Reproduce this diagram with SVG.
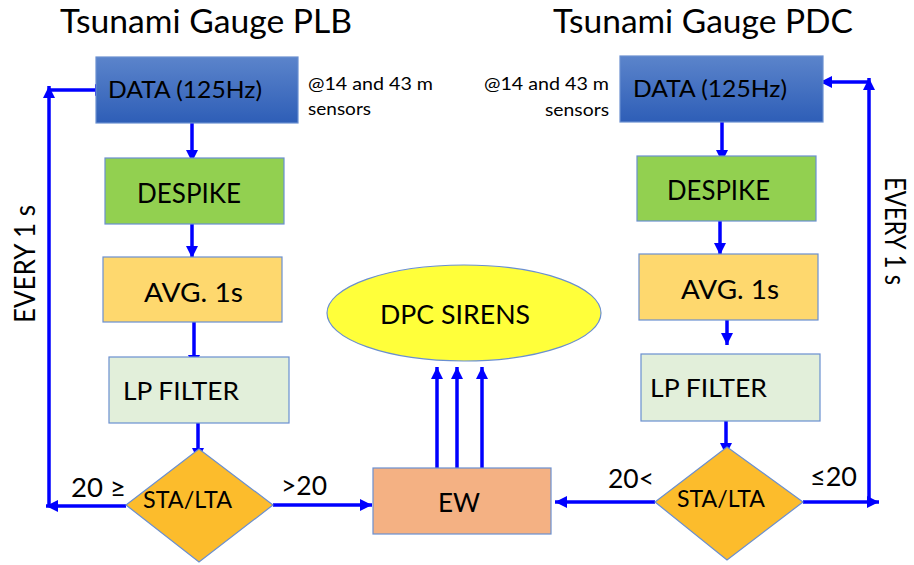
<svg xmlns="http://www.w3.org/2000/svg" width="914" height="565" viewBox="0 0 914 565">
<defs>
<linearGradient id="gData" x1="0" y1="0" x2="0" y2="1">
<stop offset="0" stop-color="#5b84cb"/>
<stop offset="1" stop-color="#2e5eb7"/>
</linearGradient>
<marker id="ah" markerUnits="userSpaceOnUse" markerWidth="12" markerHeight="12" viewBox="0 0 10 10" refX="10" refY="5" orient="auto">
<path d="M0,0 L10,5 L0,10 z" fill="#0000ff"/>
</marker>
</defs>
<style>
text{font-family:Lato,"Open Sans","Liberation Sans",sans-serif;fill:#000}
.box{stroke:#6a8fd0;stroke-width:1.2}
.arr{stroke:#0000ff;stroke-width:3.5;fill:none;marker-end:url(#ah)}
.t23{font-size:23.5px}.t26{font-size:26px}.t27{font-size:27.5px}.t18{font-size:18px}
</style>
<rect width="914" height="565" fill="#ffffff"/>

<g id="titles">
<text x="60" y="33" font-size="33" textLength="292" lengthAdjust="spacingAndGlyphs">Tsunami Gauge PLB</text>
<text x="553" y="33" font-size="33" textLength="300" lengthAdjust="spacingAndGlyphs">Tsunami Gauge PDC</text>
<text class="t18" x="308" y="90" textLength="125" lengthAdjust="spacingAndGlyphs">@14 and 43 m</text>
<text class="t18" x="308" y="115" textLength="63" lengthAdjust="spacingAndGlyphs">sensors</text>
<text class="t18" x="484" y="90" textLength="125" lengthAdjust="spacingAndGlyphs">@14 and 43 m</text>
<text class="t18" x="545" y="116" textLength="64" lengthAdjust="spacingAndGlyphs">sensors</text>
<text font-size="29" transform="translate(35,323) rotate(-90)" textLength="118" lengthAdjust="spacingAndGlyphs">EVERY 1 s</text>
<text font-size="28" transform="translate(885,177) rotate(90)" textLength="108" lengthAdjust="spacingAndGlyphs">EVERY 1 s</text>
</g>

<g id="connectors">
<line class="arr" x1="192" y1="117" x2="192" y2="162"/>
<line class="arr" x1="192" y1="217" x2="192" y2="258"/>
<line class="arr" x1="194" y1="322" x2="194" y2="367"/>
<line class="arr" x1="198" y1="415" x2="198" y2="460"/>
<line class="arr" x1="126" y1="506" x2="46" y2="506"/>
<line class="arr" x1="49" y1="507" x2="49" y2="86"/>
<line class="arr" x1="48" y1="90" x2="107" y2="90"/>
<line class="arr" x1="273" y1="505" x2="372" y2="505"/>
<line class="arr" x1="722" y1="117" x2="722" y2="162"/>
<line class="arr" x1="720" y1="214" x2="720" y2="255"/>
<line class="arr" x1="727" y1="320" x2="727" y2="345"/>
<line class="arr" x1="726" y1="408" x2="726" y2="455"/>
<line class="arr" x1="655" y1="502" x2="555" y2="502"/>
<line class="arr" x1="803" y1="502" x2="879" y2="502"/>
<line class="arr" x1="869" y1="503" x2="869" y2="78"/>
<line class="arr" x1="870" y1="82" x2="820" y2="82"/>
<line class="arr" x1="437" y1="468" x2="437" y2="367"/>
<line class="arr" x1="457" y1="468" x2="457" y2="367"/>
<line class="arr" x1="482" y1="468" x2="482" y2="367"/>
</g>

<g id="data-plb">
<rect class="box" x="96" y="57" width="202" height="66" fill="url(#gData)"/>
<text class="t23" x="108" y="98" textLength="154" lengthAdjust="spacingAndGlyphs">DATA (125Hz)</text>
</g>
<g id="despike-plb">
<rect class="box" x="105" y="158" width="179" height="66" fill="#92d050"/>
<text class="t26" x="137" y="203" textLength="104" lengthAdjust="spacingAndGlyphs">DESPIKE</text>
</g>
<g id="avg-plb">
<rect class="box" x="103" y="257" width="179" height="65" fill="#fed86e"/>
<text class="t27" x="144" y="302" textLength="99" lengthAdjust="spacingAndGlyphs">AVG. 1s</text>
</g>
<g id="lp-plb">
<rect class="box" x="109" y="357" width="180" height="66" fill="#e2efda"/>
<text font-size="25.5" x="123" y="400" textLength="116" lengthAdjust="spacingAndGlyphs">LP FILTER</text>
</g>
<g id="sta-plb">
<polygon class="box" points="199,449 273,505 199,562 126,505" fill="#fcbc2c"/>
<text class="t23" x="143" y="508" textLength="89" lengthAdjust="spacingAndGlyphs">STA/LTA</text>
</g>

<g id="data-pdc">
<rect class="box" x="620" y="56" width="203" height="66" fill="url(#gData)"/>
<text class="t23" x="633" y="97" textLength="154" lengthAdjust="spacingAndGlyphs">DATA (125Hz)</text>
</g>
<g id="despike-pdc">
<rect class="box" x="637" y="156" width="179" height="65" fill="#92d050"/>
<text class="t26" x="667" y="200" textLength="103" lengthAdjust="spacingAndGlyphs">DESPIKE</text>
</g>
<g id="avg-pdc">
<rect class="box" x="639" y="254" width="179" height="66" fill="#fed86e"/>
<text class="t27" x="681" y="299" textLength="98" lengthAdjust="spacingAndGlyphs">AVG. 1s</text>
</g>
<g id="lp-pdc">
<rect class="box" x="641" y="354" width="179" height="67" fill="#e2efda"/>
<text font-size="25.5" x="650" y="397" textLength="117" lengthAdjust="spacingAndGlyphs">LP FILTER</text>
</g>
<g id="sta-pdc">
<polygon class="box" points="727,447 803,502 727,560 655,502" fill="#fcbc2c"/>
<text class="t23" x="677" y="507" textLength="88" lengthAdjust="spacingAndGlyphs">STA/LTA</text>
</g>

<g id="ew">
<rect class="box" x="373" y="468" width="178" height="66" fill="#f4b183"/>
<text class="t27" x="438" y="512" textLength="42" lengthAdjust="spacingAndGlyphs">EW</text>
</g>
<g id="sirens">
<ellipse class="box" cx="464" cy="313" rx="137" ry="48" fill="#ffff3a"/>
<text class="t27" x="380" y="324" textLength="150" lengthAdjust="spacingAndGlyphs">DPC SIRENS</text>
</g>

<g id="labels">
<text class="t27" x="71" y="497" textLength="55" lengthAdjust="spacingAndGlyphs">20 ≥</text>
<text class="t27" x="281" y="495" textLength="46" lengthAdjust="spacingAndGlyphs">&gt;20</text>
<text class="t27" x="608" y="488" textLength="46" lengthAdjust="spacingAndGlyphs">20&lt;</text>
<text class="t27" x="810" y="486" textLength="47" lengthAdjust="spacingAndGlyphs">≤20</text>
</g>
</svg>
